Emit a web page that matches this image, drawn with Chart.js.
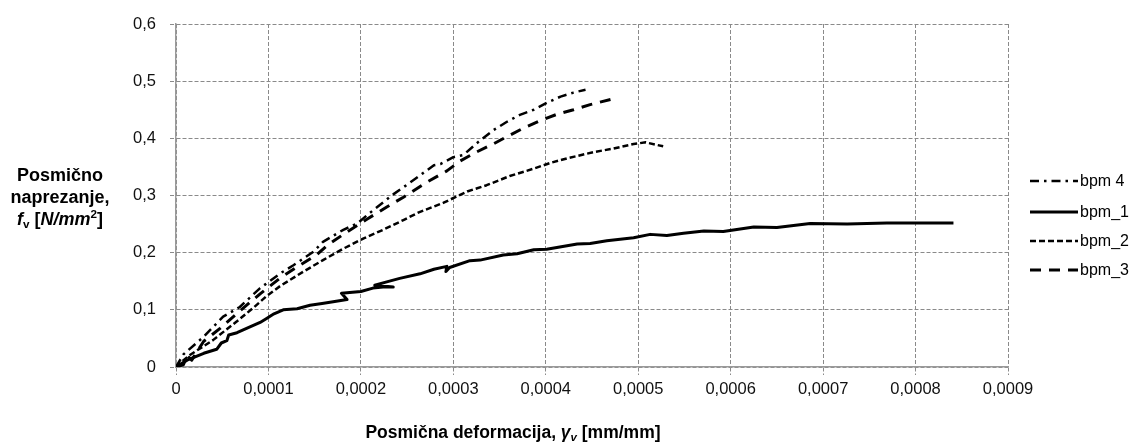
<!DOCTYPE html>
<html><head><meta charset="utf-8">
<script src="https://cdn.jsdelivr.net/npm/chart.js@4.4.1/dist/chart.umd.min.js"></script>
<style>html,body{margin:0;padding:0;background:#fff;}canvas{display:block;}</style>
</head><body>
<canvas id="c" width="1136" height="444"></canvas>
<script>
// ---- data ----
const seriesNames = ['bpm 4', 'bpm_1', 'bpm_2', 'bpm_3'];

const bpm4X = [0, 0.08e-4, 0.3e-4, 0.51e-4, 0.69e-4, 0.91e-4, 1.13e-4, 1.27e-4, 1.49e-4, 1.59e-4, 1.81e-4, 1.96e-4, 2.1e-4, 2.35e-4, 2.57e-4, 2.79e-4, 2.86e-4, 3.0e-4, 3.11e-4, 3.25e-4, 3.43e-4, 3.58e-4, 3.72e-4, 3.87e-4, 4.01e-4, 4.16e-4, 4.30e-4, 4.43e-4];
const bpm4Y = [0, 0.022, 0.053, 0.088, 0.105, 0.138, 0.164, 0.178, 0.202, 0.219, 0.24, 0.251, 0.27, 0.302, 0.327, 0.353, 0.355, 0.367, 0.371, 0.391, 0.414, 0.429, 0.441, 0.45, 0.462, 0.473, 0.48, 0.485];

const bpm1X = [0, 0.12e-4, 0.3e-4, 0.44e-4, 0.49e-4, 0.55e-4, 0.57e-4, 0.66e-4, 0.8e-4, 0.91e-4, 0.98e-4, 1.06e-4, 1.16e-4, 1.31e-4, 1.45e-4, 1.58e-4, 1.70e-4, 1.85e-4, 1.79e-4, 2.0e-4, 2.13e-4, 2.24e-4, 2.35e-4, 2.15e-4, 2.28e-4, 2.42e-4, 2.64e-4, 2.79e-4, 2.93e-4, 2.92e-4, 2.96e-4, 3.18e-4, 3.29e-4, 3.54e-4, 3.69e-4, 3.87e-4, 4.01e-4, 4.34e-4, 4.48e-4, 4.66e-4, 4.95e-4, 5.13e-4, 5.31e-4, 5.49e-4, 5.71e-4, 5.92e-4, 6.25e-4, 6.5e-4, 6.86e-4, 7.26e-4, 7.69e-4, 7.98e-4, 8.41e-4];
const bpm1Y = [0, 0.012, 0.024, 0.031, 0.042, 0.046, 0.056, 0.06, 0.07, 0.078, 0.085, 0.093, 0.1, 0.102, 0.108, 0.111, 0.114, 0.118, 0.129, 0.132, 0.138, 0.14, 0.14, 0.143, 0.149, 0.155, 0.163, 0.171, 0.176, 0.167, 0.174, 0.186, 0.187, 0.196, 0.198, 0.205, 0.206, 0.215, 0.216, 0.221, 0.226, 0.232, 0.23, 0.234, 0.238, 0.237, 0.245, 0.244, 0.251, 0.25, 0.252, 0.252, 0.252];

const bpm2X = [0, 0.05e-4, 0.15e-4, 0.4e-4, 0.66e-4, 0.84e-4, 0.98e-4, 1.13e-4, 1.38e-4, 1.59e-4, 1.81e-4, 2.03e-4, 2.24e-4, 2.46e-4, 2.62e-4, 2.89e-4, 3.15e-4, 3.36e-4, 3.61e-4, 3.87e-4, 4.05e-4, 4.23e-4, 4.52e-4, 4.73e-4, 4.95e-4, 5.08e-4, 5.27e-4];
const bpm2Y = [0, 0.008, 0.021, 0.047, 0.08, 0.104, 0.124, 0.142, 0.167, 0.187, 0.207, 0.225, 0.24, 0.257, 0.27, 0.287, 0.307, 0.318, 0.334, 0.347, 0.357, 0.365, 0.376, 0.382, 0.39, 0.393, 0.386];

const bpm3X = [0, 0.08e-4, 0.12e-4, 0.17e-4, 0.3e-4, 0.48e-4, 0.69e-4, 0.91e-4, 1.13e-4, 1.31e-4, 1.52e-4, 1.63e-4, 1.81e-4, 2.06e-4, 2.28e-4, 2.46e-4, 2.71e-4, 2.93e-4, 3.07e-4, 3.25e-4, 3.43e-4, 3.58e-4, 3.76e-4, 3.94e-4, 4.12e-4, 4.30e-4, 4.48e-4, 4.70e-4];
const bpm3Y = [0, 0.004, 0.02, 0.012, 0.045, 0.068, 0.098, 0.128, 0.156, 0.175, 0.196, 0.212, 0.232, 0.258, 0.28, 0.297, 0.323, 0.343, 0.36, 0.376, 0.39, 0.403, 0.418, 0.431, 0.442, 0.45, 0.459, 0.468];

const xTickValues = [0, 0.0001, 0.0002, 0.0003, 0.0004, 0.0005, 0.0006, 0.0007, 0.0008, 0.0009];
const xTickLabels = ['0', '0,0001', '0,0002', '0,0003', '0,0004', '0,0005', '0,0006', '0,0007', '0,0008', '0,0009'];
const yTickValues = [0, 0.1, 0.2, 0.3, 0.4, 0.5, 0.6];
const yTickLabels = ['0', '0,1', '0,2', '0,3', '0,4', '0,5', '0,6'];

// ---- build ----
const pts = (xs, ys) => xs.map((x, i) => ({x: x, y: ys[i]}));
const FONT = "'Liberation Sans', Arial, sans-serif";

const datasets = [
  {label: seriesNames[0], data: pts(bpm4X, bpm4Y), borderColor: '#000', borderWidth: 2.5, borderDash: [9, 5, 2.5, 5]},
  {label: seriesNames[1], data: pts(bpm1X, bpm1Y), borderColor: '#000', borderWidth: 3, borderDash: []},
  {label: seriesNames[2], data: pts(bpm2X, bpm2Y), borderColor: '#000', borderWidth: 2.5, borderDash: [6, 3]},
  {label: seriesNames[3], data: pts(bpm3X, bpm3Y), borderColor: '#000', borderWidth: 3, borderDash: [11, 8]}
].map(d => Object.assign(d, {pointRadius: 0, pointHoverRadius: 0, tension: 0, fill: false, borderCapStyle: 'butt', borderJoinStyle: 'round'}));

const xTitleParts = [
  {t: 'Posmična deformacija, ', f: 'bold'},
  {t: 'γ', f: 'bold italic'},
  {t: 'v', f: 'bold italic', sub: true},
  {t: ' [mm/mm]', f: 'bold'}
];
const yTitleLines = [
  [{t: 'Posmično', f: 'bold'}],
  [{t: 'naprezanje,', f: 'bold'}],
  [{t: 'f', f: 'bold italic'}, {t: 'v', f: 'bold', sub: true}, {t: ' [', f: 'bold'}, {t: 'N/mm', f: 'bold italic'}, {t: '2', f: 'bold', sup: true}, {t: ']', f: 'bold'}]
];

function drawRich(ctx, parts, cx, baseline, size) {
  const fontOf = p => p.f + ' ' + ((p.sub || p.sup) ? size * 0.65 : size) + 'px ' + FONT;
  let total = 0;
  parts.forEach(p => { ctx.font = fontOf(p); total += ctx.measureText(p.t).width; });
  let x = cx - total / 2;
  parts.forEach(p => {
    ctx.font = fontOf(p);
    let y = baseline;
    if (p.sub) y += size * 0.18;
    if (p.sup) y -= size * 0.38;
    ctx.fillText(p.t, x, y);
    x += ctx.measureText(p.t).width;
  });
}

const decor = {
  id: 'decor',
  beforeDraw(chart) {
    const ctx = chart.ctx;
    ctx.save();
    ctx.fillStyle = '#fff';
    ctx.fillRect(0, 0, chart.width, chart.height);
    ctx.restore();
  },
  afterDraw(chart) {
    const ctx = chart.ctx;
    const a = chart.chartArea;
    ctx.save();
    ctx.fillStyle = '#000';
    ctx.textAlign = 'left';
    ctx.textBaseline = 'alphabetic';
    // axis titles
    drawRich(ctx, xTitleParts, a.left + (a.right - a.left) * 0.405, 438, 17.5);
    const yb = [181, 203, 225];
    yTitleLines.forEach((ln, i) => drawRich(ctx, ln, 60, yb[i], 18));
    // legend
    const rows = [181, 212, 241, 270];
    const lx0 = a.right + 22, lx1 = a.right + 70;
    chart.data.datasets.forEach((d, i) => {
      ctx.save();
      ctx.strokeStyle = d.borderColor;
      ctx.lineWidth = d.borderWidth;
      ctx.setLineDash(d.borderDash || []);
      ctx.lineCap = 'butt';
      ctx.beginPath();
      ctx.moveTo(lx0, rows[i]);
      ctx.lineTo(lx1, rows[i]);
      ctx.stroke();
      ctx.restore();
      ctx.font = '16px ' + FONT;
      ctx.textBaseline = 'middle';
      ctx.fillStyle = '#000';
      ctx.fillText(d.label, lx1 + 2, rows[i] + 1);
    });
    ctx.restore();
  }
};

const gridCommon = {color: '#8a8a8a', lineWidth: 1, tickColor: '#8a8a8a', tickBorderDash: [4, 2], tickWidth: 1};

new Chart(document.getElementById('c'), {
  type: 'line',
  data: {datasets: datasets},
  options: {
    responsive: false,
    devicePixelRatio: 1,
    animation: false,
    events: [],
    layout: {padding: {left: 0, top: 24, right: 128, bottom: 0}},
    plugins: {legend: {display: false}, title: {display: false}, tooltip: {enabled: false}},
    scales: {
      x: {
        type: 'linear', min: 0, max: 0.0009,
        grid: Object.assign({}, gridCommon, {tickLength: 8}),
        border: {display: true, color: '#9a9a9a', width: 1.5, dash: [4, 2]},
        afterBuildTicks: s => { s.ticks = xTickValues.map(v => ({value: v})); },
        afterFit: s => { s.height = 77; },
        ticks: {
          padding: 5, color: '#111', font: {family: FONT, size: 16.5}, maxRotation: 0, autoSkip: false,
          callback: (v, i) => xTickLabels[i]
        }
      },
      y: {
        type: 'linear', min: 0, max: 0.6,
        grid: Object.assign({}, gridCommon, {tickLength: 6}),
        border: {display: true, color: '#9a9a9a', width: 1.5, dash: [4, 2]},
        afterBuildTicks: s => { s.ticks = yTickValues.map(v => ({value: v})); },
        afterFit: s => { s.width = 176; },
        ticks: {
          padding: 14, color: '#111', font: {family: FONT, size: 16.5}, autoSkip: false,
          callback: (v, i) => yTickLabels[i]
        }
      }
    }
  },
  plugins: [decor]
});
</script>
</body></html>
